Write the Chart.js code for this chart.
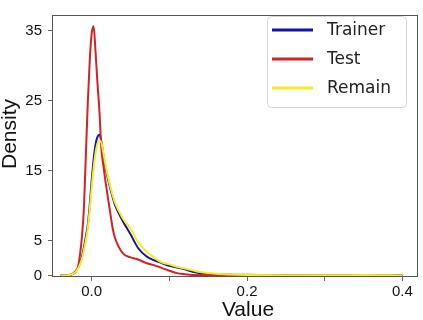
<!DOCTYPE html>
<html>
<head>
<meta charset="utf-8">
<script src="https://cdn.jsdelivr.net/npm/chart.js@4.4.1/dist/chart.umd.min.js"></script>
<style>
  html, body { margin: 0; padding: 0; background: #fff; }
  #wrap { width: 423px; height: 320px; }
</style>
</head>
<body>
<div id="wrap"><canvas id="myChart"></canvas></div>
<script>
"use strict";

// x positions shared by all three density curves
const xGrid = [-0.04, -0.03, -0.025, -0.02, -0.0175, -0.015, -0.0125, -0.01, -0.0075, -0.005, -0.0025,
  0, 0.0025, 0.005, 0.0075, 0.01, 0.0125, 0.015, 0.0175, 0.02, 0.0225, 0.025, 0.0275, 0.03,
  0.04, 0.05, 0.06, 0.07, 0.08, 0.09, 0.1, 0.11, 0.12, 0.13, 0.14, 0.16, 0.18, 0.2, 0.25, 0.3, 0.35, 0.4];

const seriesNames = ['Trainer', 'Test', 'Remain'];

const trainer = [0, 0.05, 0.2, 0.7, 1.1, 1.8, 2.7, 4.0, 5.5, 7.2, 10,
  13.5, 16.5, 18.7, 19.8, 20.1, 19.2, 17.3, 15.6, 14.3, 13.1, 12.0, 11.0, 10.1,
  7.8, 5.9, 3.9, 2.8, 2.2, 1.8, 1.4, 1.15, 0.9, 0.55, 0.35, 0.2, 0.12, 0.1, 0.1, 0.03, 0.02, 0];

const test = [0, 0.05, 0.2, 0.6, 1.3, 3.0, 5.5, 9.5, 17, 24.5, 30.5,
  34.5, 35.6, 32, 27.5, 23.5, 18.2, 15.8, 13.7, 11.8, 10, 8.2, 6.5, 5.4,
  3.2, 2.6, 2.3, 1.8, 1.5, 1.1, 0.7, 0.35, 0.2, 0.1, 0.08, 0.06, 0.08, 0.12, 0.03, 0.01, 0.01, 0];

const remain = [0, 0.05, 0.2, 0.6, 1.0, 1.6, 2.4, 3.6, 5.0, 6.7, 9.3,
  12.5, 15.3, 17.5, 18.8, 19.3, 19.0, 17.6, 16.0, 14.6, 13.4, 12.3, 11.3, 10.4,
  8.2, 6.7, 4.7, 3.5, 2.6, 1.9, 1.6, 1.25, 1.0, 0.75, 0.5, 0.25, 0.15, 0.1, 0.05, 0.05, 0.08, 0.02];

const xTicks = [0, 0.1, 0.2, 0.3, 0.4];
const xTickLabels = ['0.0', '', '0.2', '', '0.4'];
const yTicks = [0, 5, 15, 25, 35];

const colors = ['#1414a8', '#d42222', '#f2ee22'];
// lower order is drawn on top: Remain over Test over Trainer
const drawOrder = [2, 1, 0];

function toPoints(ys) {
  return xGrid.map((x, i) => ({ x: x, y: ys[i] }));
}

// frame, axis titles and legend drawn by hand
const decorations = {
  id: 'decorations',
  afterDraw(chart) {
    const c = chart.ctx;
    const a = chart.chartArea;
    c.save();
    c.strokeStyle = '#555';
    c.lineWidth = 1;
    c.strokeRect(a.left + 0.5, a.top + 0.5, a.right - a.left - 1, a.bottom - a.top - 1);

    c.fillStyle = '#111';
    c.font = '21px "Liberation Sans", Arial, sans-serif';
    c.textAlign = 'center';
    c.textBaseline = 'middle';
    c.fillText('Value', 248, 310);
    c.translate(10, 134);
    c.rotate(-Math.PI / 2);
    c.fillText('Density', 0, 0);
    c.restore();

    // legend
    c.save();
    c.beginPath();
    c.roundRect(267.5, 16.5, 139, 91, 4);
    c.fillStyle = 'rgba(255,255,255,0.85)';
    c.fill();
    c.strokeStyle = '#d6d6d6';
    c.stroke();
    c.font = '17px "DejaVu Sans", sans-serif';
    c.textAlign = 'left';
    c.textBaseline = 'middle';
    seriesNames.forEach((name, i) => {
      const y = 30 + i * 29;
      c.strokeStyle = colors[i];
      c.lineWidth = 3;
      c.beginPath();
      c.moveTo(272, y);
      c.lineTo(313, y);
      c.stroke();
      c.fillStyle = '#222';
      c.fillText(name, 327, y + 1);
    });
    c.restore();
  }
};

const ctx = document.getElementById('myChart').getContext('2d');

const chart = new Chart(ctx, {
  type: 'line',
  data: {
    datasets: [trainer, test, remain].map((ys, i) => ({
      label: seriesNames[i],
      data: toPoints(ys),
      borderColor: colors[i],
      borderWidth: 2,
      pointRadius: 0,
      cubicInterpolationMode: 'monotone',
      order: drawOrder[i],
      fill: false
    }))
  },
  options: {
    responsive: true,
    maintainAspectRatio: false,
    animation: false,
    layout: { padding: { top: 3, right: 5, left: 0, bottom: 0 } },
    plugins: {
      legend: { display: false },
      tooltip: { enabled: false }
    },
    scales: {
      x: {
        type: 'linear',
        min: -0.051,
        max: 0.42,
        afterFit: s => { s.height = 43; },
        afterBuildTicks: s => { s.ticks = xTicks.map(v => ({ value: v })); },
        grid: { drawOnChartArea: false, drawTicks: true, tickLength: 4, color: '#666' },
        border: { display: false },
        ticks: {
          autoSkip: false,
          maxRotation: 0,
          padding: 2,
          color: '#111',
          font: { family: '"Liberation Sans", Arial, sans-serif', size: 15 },
          callback: (v, i) => xTickLabels[i]
        }
      },
      y: {
        min: -0.2,
        max: 37.2,
        afterFit: s => { s.width = 52; },
        afterBuildTicks: s => { s.ticks = yTicks.map(v => ({ value: v })); },
        grid: { drawOnChartArea: false, drawTicks: true, tickLength: 4, color: '#666' },
        border: { display: false },
        ticks: {
          autoSkip: false,
          padding: 6,
          color: '#111',
          font: { family: '"Liberation Sans", Arial, sans-serif', size: 15 }
        }
      }
    }
  },
  plugins: [decorations]
});
</script>
</body>
</html>
